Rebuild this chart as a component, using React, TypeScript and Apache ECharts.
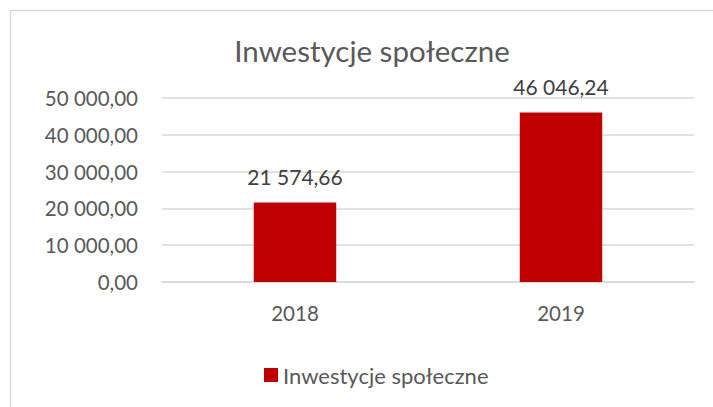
import React, { useEffect, useRef } from "react";
import * as echarts from "echarts";

const categories = ["2018", "2019"];
const seriesName = "Inwestycje społeczne";
const values = [21574.66, 46046.24];
const titleText = "Inwestycje społeczne";

const fmt = (v: number) => {
  const [i, d] = v.toFixed(2).split(".");
  return i.replace(/\B(?=(\d{3})+(?!\d))/g, " ") + "," + d;
};

const FONT = "Lato, 'Noto Sans', sans-serif";
const TXT = "#595959";

export default function App() {
  const ref = useRef<HTMLDivElement>(null);
  useEffect(() => {
    document.body.style.margin = "0";
    const chart = echarts.init(ref.current!, null, { renderer: "svg" });
    chart.setOption({
      animation: false,
      backgroundColor: "#ffffff",
      textStyle: { fontFamily: FONT },
      title: {
        text: titleText,
        left: 367,
        top: 30,
        textAlign: "center",
        textStyle: { color: TXT, fontSize: 29.5, fontWeight: "normal", fontFamily: FONT },
      },
      graphic: [
        {
          type: "rect",
          shape: { x: 10.5, y: 10.5, width: 760, height: 460 },
          style: { fill: "none", stroke: "#d9d9d9", lineWidth: 1.5 },
          silent: true,
        },
      ],
      legend: {
        left: 259,
        top: 359,
        itemWidth: 14,
        itemHeight: 14,
        icon: "rect",
        textStyle: { color: TXT, fontSize: 22, fontFamily: FONT },
        data: [seriesName],
      },
      grid: { left: 162, right: 19, top: 98, bottom: 125, containLabel: false },
      xAxis: {
        type: "category",
        data: categories,
        axisLine: { lineStyle: { color: "#d9d9d9", width: 1.5 } },
        axisTick: { show: false },
        axisLabel: { color: TXT, fontSize: 20.5, margin: 20, fontFamily: FONT },
      },
      yAxis: {
        type: "value",
        min: 0,
        max: 50000,
        interval: 10000,
        axisLine: { show: false },
        axisTick: { show: false },
        splitLine: { lineStyle: { color: "#d9d9d9", width: 1.5 } },
        axisLabel: { color: TXT, fontSize: 20.5, margin: 24, fontFamily: FONT, formatter: (v: number) => fmt(v) },
      },
      series: [
        {
          name: seriesName,
          type: "bar",
          data: values,
          barWidth: "31%",
          itemStyle: { color: "#C00000" },
          label: {
            show: true,
            position: "top",
            distance: 16,
            color: "#404040",
            fontSize: 21,
            fontFamily: FONT,
            formatter: (p: any) => fmt(p.value),
          },
        },
      ],
    });
    return () => chart.dispose();
  }, []);
  return <div ref={ref} style={{ width: 713, height: 407 }} />;
}
